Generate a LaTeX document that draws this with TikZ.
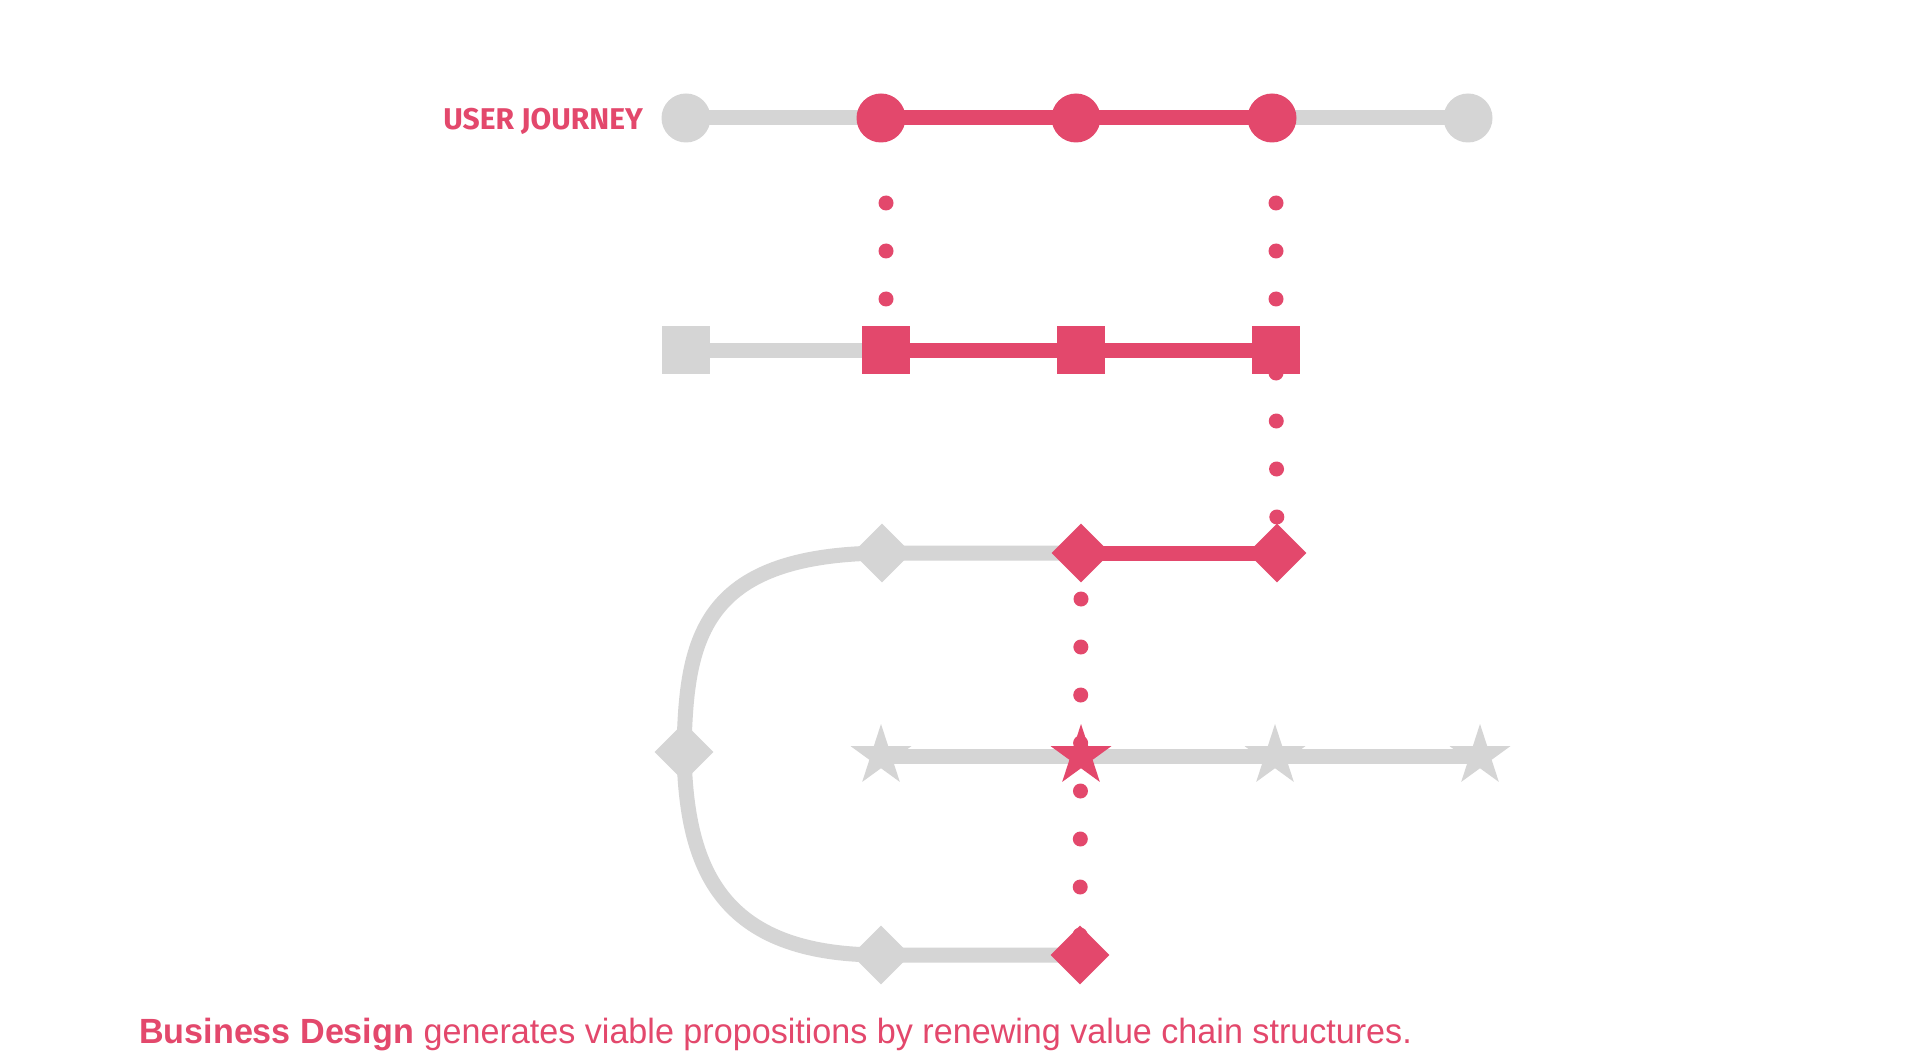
\documentclass[tikz,border=0pt]{standalone}
\usepackage{fontspec}
\setmainfont{Liberation Sans}
\newfontfamily\journeyfont{Fira Sans}
\usetikzlibrary{shapes.geometric,backgrounds,calc}
\definecolor{journeyred}{HTML}{E3486C}
\definecolor{pathgray}{HTML}{D5D5D5}

\begin{document}
\begin{tikzpicture}[
  x=1pt,y=-1pt,
  spot/.style={circle,fill=#1,minimum size=49pt,inner sep=0pt},
  block/.style={rectangle,fill=#1,minimum size=48pt,inner sep=0pt},
  gem/.style={diamond,fill=#1,minimum size=59pt,inner sep=0pt},
  pip/.style={star,star points=5,star point ratio=2.618,fill=#1,minimum size=64pt,inner sep=0pt},
  track/.style={draw=#1,line width=15pt},
  dotline/.style={draw=journeyred,line width=15pt,line cap=round,dash pattern=on 0pt off 48pt}
]
\useasboundingbox (0,0) rectangle (1918,1056);
% circles
\node[spot=pathgray] (c1) at (686,118) {};
\node[spot=journeyred] (c2) at (881,118) {};
\node[spot=journeyred] (c3) at (1076,118) {};
\node[spot=journeyred] (c4) at (1272,118) {};
\node[spot=pathgray] (c5) at (1468,118) {};
% squares
\node[block=pathgray] (s1) at (686,350) {};
\node[block=journeyred] (s2) at (886,350) {};
\node[block=journeyred] (s3) at (1081,350) {};
\node[block=journeyred] (s4) at (1276,350) {};
% diamonds
\node[gem=pathgray] (d1) at (882,553) {};
\node[gem=journeyred] (d2) at (1081,553) {};
\node[gem=journeyred] (d3) at (1277,553) {};
\node[gem=pathgray] (dl) at (684,752) {};
\node[gem=pathgray] (b1) at (881,955) {};
\node[gem=journeyred] (b2) at (1080,955) {};
% stars
\node[pip=pathgray] (p1) at (881,756) {};
\node[pip=journeyred] (p2) at (1081,756) {};
\node[pip=pathgray] (p3) at (1275,756) {};
\node[pip=pathgray] (p4) at (1480,756) {};

\node[anchor=base east,inner sep=0pt,text=journeyred,font=\journeyfont\bfseries\fontsize{30}{30}\selectfont] (journey) at (643,130) {USER JOURNEY};
\node[anchor=base west,inner sep=0pt,text=journeyred,font=\fontsize{35}{35}\selectfont] (caption) at (139,1043)
  {\scalebox{0.975}[1]{\textbf{Business Design} generates viable propositions by renewing value chain structures.}};

\begin{scope}[on background layer]
\fill[white] (0,0) rectangle (1918,1056);
\draw[track=pathgray] (c1.center) -- (c2.center) (c4.center) -- (c5.center);
\draw[track=journeyred] (c2.center) -- (c3.center) -- (c4.center);
\draw[track=pathgray] (s1.center) -- (s2.center);
\draw[track=journeyred] (s2.center) -- (s3.center) -- (s4.center);
\draw[track=pathgray] (b2.center) -- (b1.center) .. controls (720,955) and (686,868) .. (dl.center)
  .. controls (686,640) and (700,555) .. (d1.center) -- (d2.center);
\draw[track=journeyred] (d2.center) -- (d3.center);
\draw[track=pathgray] (p1.center) -- (p4.center);
\draw[dotline] ($(s2 |- c2)+(0,85)$) -- (s2.center);
\draw[dotline] ($(s4 |- c4)+(0,85)$) -- (s4.center);
\draw[dotline] ($(s4)+(0,23)$) -- (d3.center);
\draw[dotline] ($(d2)+(0,46)$) -- (b2.center);
\end{scope}
\end{tikzpicture}
\end{document}
